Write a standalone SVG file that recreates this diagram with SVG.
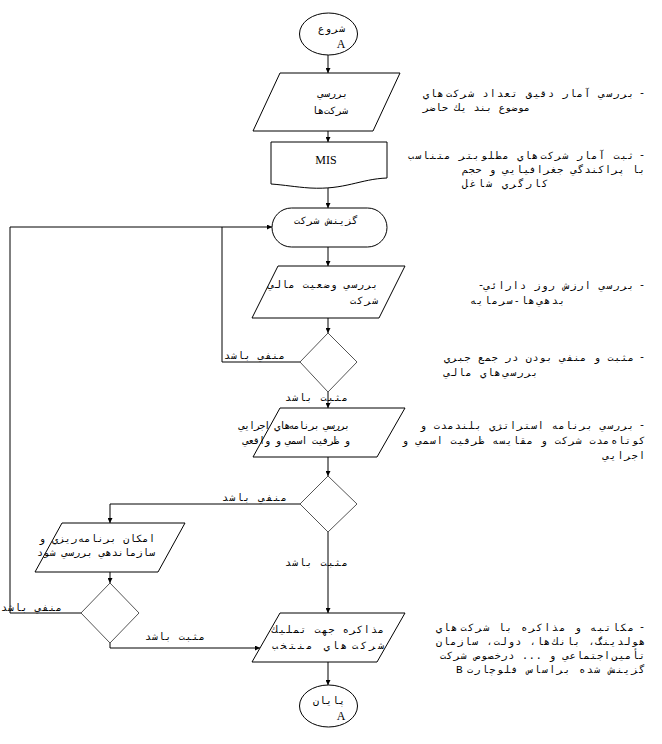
<svg xmlns="http://www.w3.org/2000/svg" width="662" height="744" viewBox="0 0 662 744">
<defs>
<style>
.shape{fill:#fff;stroke:#000;stroke-width:1}
.dia{fill:#fff;stroke:#555;stroke-width:1}
.ln{fill:none;stroke:#000;stroke-width:1}
.fa{font-family:"DejaVu Sans Mono","DejaVu Sans",sans-serif;font-size:10px;fill:#000;direction:rtl;text-anchor:start}
.lat{font-family:"Liberation Serif",serif;font-size:12px;fill:#000;text-anchor:middle}
.latl{font-family:"Liberation Mono",monospace;font-size:11px;fill:#000;text-anchor:start}
.dash{font-family:"Liberation Mono",monospace;font-size:10px;fill:#000;text-anchor:end}
</style>
<marker id="ar" viewBox="0 0 10 10" refX="10" refY="5" markerWidth="6" markerHeight="5" markerUnits="userSpaceOnUse" orient="auto">
<path d="M0,0 L10,5 L0,10 z" fill="#000"/>
</marker>
</defs>
<rect width="662" height="744" fill="#fff"/>

<g id="connectors">
<line class="ln" x1="328" y1="55" x2="328" y2="73" marker-end="url(#ar)"/>
<line class="ln" x1="328" y1="131" x2="328" y2="142" marker-end="url(#ar)"/>
<line class="ln" x1="328" y1="187" x2="328" y2="208" marker-end="url(#ar)"/>
<line class="ln" x1="328" y1="247" x2="328" y2="266" marker-end="url(#ar)"/>
<line class="ln" x1="328" y1="318" x2="328" y2="333" marker-end="url(#ar)"/>
<polyline class="ln" points="300,362 222,362 222,227"/>
<polyline class="ln" points="81,613 10,613 10,227 272,227" marker-end="url(#ar)"/>
<line class="ln" x1="328" y1="392" x2="328" y2="408" marker-end="url(#ar)"/>
<line class="ln" x1="328" y1="457" x2="328" y2="476" marker-end="url(#ar)"/>
<polyline class="ln" points="300,504 110,504 110,523" marker-end="url(#ar)"/>
<line class="ln" x1="328" y1="532" x2="328" y2="613" marker-end="url(#ar)"/>
<line class="ln" x1="110" y1="572" x2="110" y2="583" marker-end="url(#ar)"/>
<polyline class="ln" points="110,643 110,648 260,648" marker-end="url(#ar)"/>
<line class="ln" x1="328" y1="662" x2="328" y2="685" marker-end="url(#ar)"/>
<text class="fa" x="285" y="359" textLength="61">منفي باشد</text>
<text class="fa" x="348" y="401" textLength="63">مثبت باشد</text>
<text class="fa" x="287" y="501" textLength="65">منفي باشد</text>
<text class="fa" x="348" y="566" textLength="63">مثبت باشد</text>
<text class="fa" x="62" y="611" textLength="61">منفي باشد</text>
<text class="fa" x="205" y="640" textLength="60">مثبت باشد</text>
</g>

<g id="start">
<ellipse class="shape" cx="328.5" cy="34" rx="29" ry="21"/>
<text class="fa" x="345" y="32" textLength="27">شروع</text>
<text class="lat" x="341" y="48">A</text>
</g>

<g id="review-companies">
<polygon class="shape" points="280,73 400,73 373,131 253,131"/>
<text class="fa" x="348" y="97" textLength="30">بررسي</text>
<text class="fa" x="348" y="114" textLength="36">شركت‌ها</text>
</g>

<g id="mis">
<path class="shape" d="M271,142 H387 V178 C360,179 345,190 310,188 C295,187 285,185 271,184 Z"/>
<text class="lat" x="326" y="164">MIS</text>
</g>

<g id="select-company">
<rect class="shape" x="272" y="208" width="115" height="39" rx="19.5" ry="19.5"/>
<text class="fa" x="358" y="224" textLength="64">گزينش شركت</text>
</g>

<g id="financial-status">
<polygon class="shape" points="278,266 405,266 379,318 252,318"/>
<text class="fa" x="378" y="288" textLength="110">بررسي وضعيت مالي</text>
<text class="fa" x="378" y="304" textLength="28">شركت</text>
</g>

<g id="decision-1">
<polygon class="dia" points="328,333 357,362 328,392 300,362"/>
</g>

<g id="exec-programs">
<polygon class="shape" points="280,408 405,408 377,457 253,457"/>
<text class="fa" x="350" y="429" textLength="111">بررسي برنامه‌هاي اجرايي</text>
<text class="fa" x="350" y="444" textLength="107">و ظرفيت اسمي و واقعي</text>
</g>

<g id="decision-2">
<polygon class="dia" points="328,476 357,504 328,532 300,504"/>
</g>

<g id="planning">
<polygon class="shape" points="62,523 185,523 158,572 35,572"/>
<text class="fa" x="155" y="542" textLength="116">امكان برنامه‌ريزي و</text>
<text class="fa" x="155" y="556" textLength="118">سازماندهي بررسي شود</text>
</g>

<g id="decision-3">
<polygon class="dia" points="110,583 139,613 110,643 81,613"/>
</g>

<g id="negotiation">
<polygon class="shape" points="280,613 405,613 377,662 252,662"/>
<text class="fa" x="384" y="633" textLength="112">مذاكره جهت تمليك</text>
<text class="fa" x="384" y="649" textLength="112">شركت‌هاي منتخب</text>
</g>

<g id="end">
<ellipse class="shape" cx="328.5" cy="706" rx="29" ry="21"/>
<text class="fa" x="345" y="704" textLength="32">پايان</text>
<text class="lat" x="341" y="720">A</text>
</g>

<g id="annotations">
<text class="dash" x="645" y="96">-</text>
<text class="fa" x="634" y="97" textLength="211">بررسي آمار دقيق تعداد شركت‌هاي</text>
<text class="fa" x="530" y="111" textLength="107">موضوع بند يك حاضر</text>
<text class="dash" x="645" y="158">-</text>
<text class="fa" x="634" y="159" textLength="226">ثبت آمار شركت‌هاي مطلوبتر متناسب</text>
<text class="fa" x="645" y="173" textLength="183">با پراكندگي جغرافيايي و حجم</text>
<text class="fa" x="548" y="187" textLength="86">كارگري شاغل</text>
<text class="dash" x="645" y="288">-</text>
<text class="fa" x="634" y="289" textLength="150">بررسي ارزش روز دارائي</text>
<text class="dash" x="484" y="288">-</text>
<text class="fa" x="565" y="304" textLength="95">بدهي‌ها-سرمايه</text>
<text class="dash" x="645" y="360">-</text>
<text class="fa" x="634" y="361" textLength="190">مثبت و منفي بودن در جمع جبري</text>
<text class="fa" x="538" y="376" textLength="94">بررسي‌هاي مالي</text>
<text class="dash" x="645" y="428">-</text>
<text class="fa" x="634" y="429" textLength="214">بررسي برنامه استراتژي بلندمدت و</text>
<text class="fa" x="645" y="444" textLength="243">كوتاه‌مدت شركت و مقايسه ظرفيت اسمي و</text>
<text class="fa" x="645" y="459" textLength="42">اجرايي</text>
<text class="dash" x="645" y="630">-</text>
<text class="fa" x="634" y="631" textLength="198">مكاتبه و مذاكره با شركت‌هاي</text>
<text class="fa" x="645" y="645" textLength="209">هولدينگ، بانك‌ها، دولت، سازمان</text>
<text class="fa" x="645" y="659" textLength="205">تأمين‌اجتماعي و ... درخصوص شركت</text>
<text class="fa" x="645" y="673" textLength="178">گزينش شده براساس فلوچارت</text>
<text class="latl" x="456" y="673">B</text>
</g>
</svg>
